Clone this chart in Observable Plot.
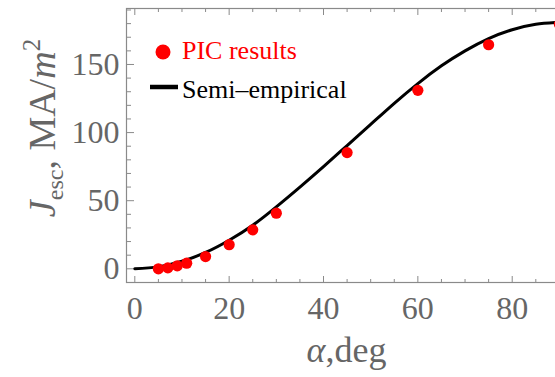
<!DOCTYPE html>
<html>
<head>
<meta charset="utf-8">
<script src="https://cdn.jsdelivr.net/npm/d3@7"></script>
<script src="https://cdn.jsdelivr.net/npm/@observablehq/plot@0.6"></script>
<style>
  html, body { margin: 0; padding: 0; overflow: hidden; background: white; width: 555px; height: 377px; }
  #chart svg { max-width: none !important; width: 570px; height: 377px; }
  #chart svg text { font-family: "Liberation Serif", "Times New Roman", Times, "DejaVu Serif", serif !important; }
</style>
</head>
<body>
<div id="chart"></div>
<script>
// PIC simulation results
const picAngle = [5, 7, 9, 11, 15, 20, 25, 30, 45, 60, 75, 90];
const picJ = [0, 0.7, 2.2, 4.1, 9, 17.7, 28.6, 40.8, 85.3, 131, 164.5, 179.5];

// Semi-empirical curve
const curveAngle = [0, 5, 10, 15, 20, 25, 30, 35, 40, 45, 50, 55, 60, 65, 70, 75, 80, 85, 90];
const curveJ = [0, 1.4, 5.5, 12, 21, 32, 45.5, 60, 75, 90.5, 106, 121.5, 136, 149, 160, 169, 175.5, 179.5, 181];

// Ticks
const xMajorTicks = [0, 20, 40, 60, 80];
const xMinorTicks = [5, 10, 15, 25, 30, 35, 45, 50, 55, 65, 70, 75, 85, 90];
const yMajorTicks = [0, 50, 100, 150];
const yMinorTicks = [10, 20, 30, 40, 60, 70, 80, 90, 110, 120, 130, 140, 160, 170, 180, 190];

const legendLabels = ["PIC results", "Semi\u2013empirical"];

const pic = picAngle.map((a, i) => ({angle: a, J: picJ[i]}));
const curve = curveAngle.map((a, i) => ({angle: a, J: curveJ[i]}));

const frameColor = "#8a8a8a";
const labelColor = "#666666";
const serif = "'Liberation Serif', 'Times New Roman', 'DejaVu Serif', serif";

const chart = Plot.plot({
  width: 570,
  height: 377,
  marginLeft: 126,
  marginRight: 3,
  marginTop: 8,
  marginBottom: 95,
  x: {domain: [-1.76, 91.72]},
  y: {domain: [-10.06, 191.1]},
  style: {background: "white", maxWidth: "none"},
  marks: [
    Plot.frame({stroke: frameColor, strokeWidth: 1.2}),
    // inward ticks bottom
    Plot.axisX(xMajorTicks, {anchor: "top", frameAnchor: "bottom", tickSize: 7, text: null, stroke: frameColor, label: null}),
    Plot.axisX(xMinorTicks, {anchor: "top", frameAnchor: "bottom", tickSize: 4, text: null, stroke: frameColor, label: null}),
    // inward ticks top
    Plot.axisX(xMajorTicks, {anchor: "bottom", frameAnchor: "top", tickSize: 7, text: null, stroke: frameColor, label: null}),
    Plot.axisX(xMinorTicks, {anchor: "bottom", frameAnchor: "top", tickSize: 4, text: null, stroke: frameColor, label: null}),
    // inward ticks left
    Plot.axisY(yMajorTicks, {anchor: "right", frameAnchor: "left", tickSize: 7, text: null, stroke: frameColor, label: null}),
    Plot.axisY(yMinorTicks, {anchor: "right", frameAnchor: "left", tickSize: 4, text: null, stroke: frameColor, label: null}),
    // tick labels
    Plot.axisX(xMajorTicks, {anchor: "bottom", tickSize: 0, tickPadding: 14, fontSize: 32, fill: labelColor, label: null}),
    Plot.axisY(yMajorTicks, {anchor: "left", tickSize: 0, tickPadding: 7, fontSize: 32, fill: labelColor, label: null}),
    // data
    Plot.line(curve, {x: "angle", y: "J", stroke: "black", strokeWidth: 3, curve: "natural"}),
    Plot.dot(pic, {x: "angle", y: "J", r: 5.6, fill: "#ff0000", stroke: "none"})
  ]
});

document.getElementById("chart").appendChild(chart);

const svg = d3.select(chart).style("max-width", "none");

// x axis title
const xt = svg.append("text")
  .attr("x", 346.5).attr("y", 362)
  .attr("text-anchor", "middle")
  .attr("font-size", 36)
  .attr("fill", labelColor);
xt.append("tspan").attr("font-style", "italic").text("\u03b1");
xt.append("tspan").text(",deg");

// y axis title
const yt = svg.append("text")
  .attr("transform", "translate(55,128) rotate(-90)")
  .attr("text-anchor", "middle")
  .attr("font-size", 38)
  .attr("fill", labelColor);
yt.append("tspan").attr("font-style", "italic").text("J");
yt.append("tspan").attr("font-size", 24).attr("dy", 8).text("esc");
yt.append("tspan").attr("dy", -8).text(", MA/");
yt.append("tspan").attr("font-style", "italic").text("m");
yt.append("tspan").attr("font-size", 25).attr("dy", -15).text("2");

// legend
const lg = svg.append("g")
  .attr("font-size", 26)
  .attr("text-anchor", "start");
lg.append("circle").attr("cx", 163).attr("cy", 52).attr("r", 7.5).attr("fill", "#ff0000");
lg.append("text").attr("x", 182).attr("y", 59).attr("fill", "#ff0000").text(legendLabels[0]);
lg.append("line").attr("x1", 150).attr("x2", 178).attr("y1", 87).attr("y2", 87)
  .attr("stroke", "black").attr("stroke-width", 4.5);
lg.append("text").attr("x", 182).attr("y", 98).attr("fill", "black").text(legendLabels[1]);
</script>
</body>
</html>
